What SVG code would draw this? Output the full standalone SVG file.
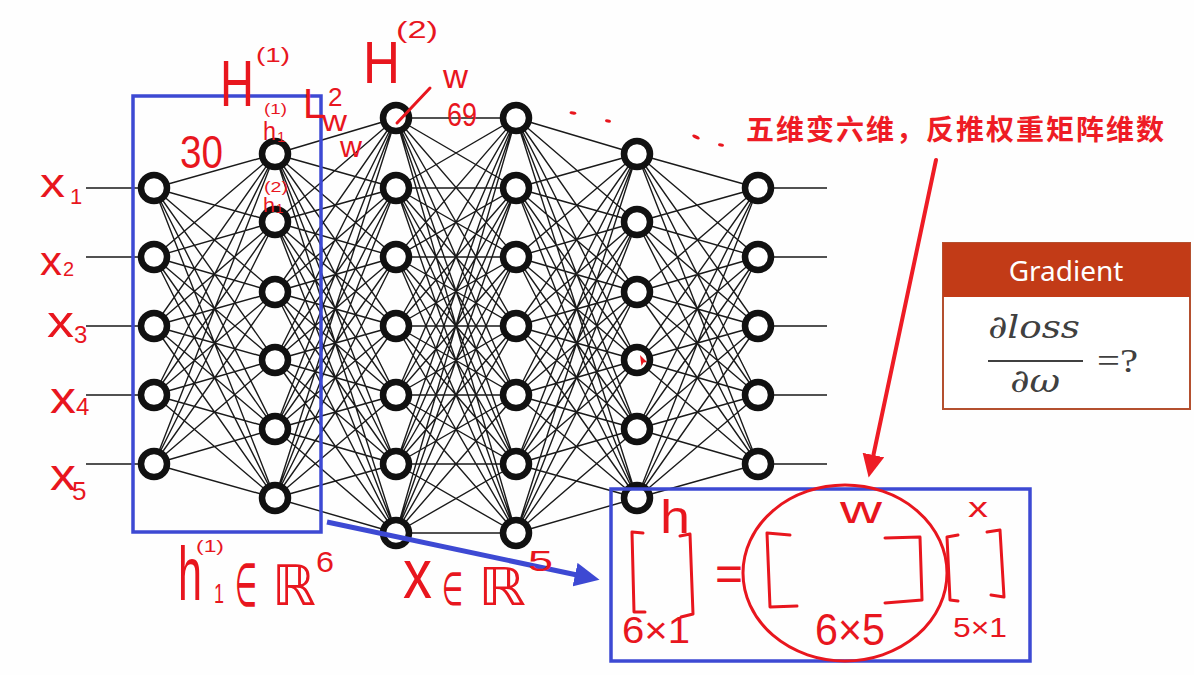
<svg xmlns="http://www.w3.org/2000/svg" width="1194" height="675" viewBox="0 0 1194 675">
<style>
.edge{stroke:#1a1a1a;stroke-width:1.4;fill:none}
.node circle{fill:#fff;stroke:#111;stroke-width:6.5}
.hw{fill:#e8161e;font-family:"Liberation Sans","DejaVu Sans",sans-serif}
.hwl{stroke:#e8161e;stroke-width:3;fill:none;stroke-linecap:round;stroke-linejoin:round}
.blue{stroke:#3d49d3;stroke-width:3.5;fill:none}
</style>
<defs>
<marker id="ahBlue" markerUnits="userSpaceOnUse" markerWidth="26" markerHeight="24" refX="2" refY="12" orient="auto"><path d="M0 0L25 12L0 24z" fill="#3d49d3"/></marker>
<marker id="ahRed" markerUnits="userSpaceOnUse" markerWidth="24" markerHeight="22" refX="2" refY="11" orient="auto"><path d="M0 0L23 11L0 22z" fill="#ee1c25"/></marker>
</defs>
<rect width="1194" height="675" fill="#fefefe"/>
<g id="connectors">
<path class="edge" d="M86 188H154M86 257H154M86 326H154M86 395H154M86 464H154M758 188H827M758 257H827M758 326H827M758 395H827M758 464H827"/>
<path class="edge" d="M154 188L275 154M154 188L275 222M154 188L275 292M154 188L275 360M154 188L275 429M154 188L275 498M154 257L275 154M154 257L275 222M154 257L275 292M154 257L275 360M154 257L275 429M154 257L275 498M154 326L275 154M154 326L275 222M154 326L275 292M154 326L275 360M154 326L275 429M154 326L275 498M154 395L275 154M154 395L275 222M154 395L275 292M154 395L275 360M154 395L275 429M154 395L275 498M154 464L275 154M154 464L275 222M154 464L275 292M154 464L275 360M154 464L275 429M154 464L275 498"/>
<path class="edge" d="M275 154L396 118M275 154L396 188M275 154L396 257M275 154L396 326M275 154L396 395M275 154L396 464M275 154L396 533M275 222L396 118M275 222L396 188M275 222L396 257M275 222L396 326M275 222L396 395M275 222L396 464M275 222L396 533M275 292L396 118M275 292L396 188M275 292L396 257M275 292L396 326M275 292L396 395M275 292L396 464M275 292L396 533M275 360L396 118M275 360L396 188M275 360L396 257M275 360L396 326M275 360L396 395M275 360L396 464M275 360L396 533M275 429L396 118M275 429L396 188M275 429L396 257M275 429L396 326M275 429L396 395M275 429L396 464M275 429L396 533M275 498L396 118M275 498L396 188M275 498L396 257M275 498L396 326M275 498L396 395M275 498L396 464M275 498L396 533"/>
<path class="edge" d="M396 118L516 118M396 118L516 188M396 118L516 257M396 118L516 326M396 118L516 395M396 118L516 464M396 118L516 533M396 188L516 118M396 188L516 188M396 188L516 257M396 188L516 326M396 188L516 395M396 188L516 464M396 188L516 533M396 257L516 118M396 257L516 188M396 257L516 257M396 257L516 326M396 257L516 395M396 257L516 464M396 257L516 533M396 326L516 118M396 326L516 188M396 326L516 257M396 326L516 326M396 326L516 395M396 326L516 464M396 326L516 533M396 395L516 118M396 395L516 188M396 395L516 257M396 395L516 326M396 395L516 395M396 395L516 464M396 395L516 533M396 464L516 118M396 464L516 188M396 464L516 257M396 464L516 326M396 464L516 395M396 464L516 464M396 464L516 533M396 533L516 118M396 533L516 188M396 533L516 257M396 533L516 326M396 533L516 395M396 533L516 464M396 533L516 533"/>
<path class="edge" d="M516 118L637 154M516 118L637 222M516 118L637 292M516 118L637 360M516 118L637 429M516 118L637 498M516 188L637 154M516 188L637 222M516 188L637 292M516 188L637 360M516 188L637 429M516 188L637 498M516 257L637 154M516 257L637 222M516 257L637 292M516 257L637 360M516 257L637 429M516 257L637 498M516 326L637 154M516 326L637 222M516 326L637 292M516 326L637 360M516 326L637 429M516 326L637 498M516 395L637 154M516 395L637 222M516 395L637 292M516 395L637 360M516 395L637 429M516 395L637 498M516 464L637 154M516 464L637 222M516 464L637 292M516 464L637 360M516 464L637 429M516 464L637 498M516 533L637 154M516 533L637 222M516 533L637 292M516 533L637 360M516 533L637 429M516 533L637 498"/>
<path class="edge" d="M637 154L758 188M637 154L758 257M637 154L758 326M637 154L758 395M637 154L758 464M637 222L758 188M637 222L758 257M637 222L758 326M637 222L758 395M637 222L758 464M637 292L758 188M637 292L758 257M637 292L758 326M637 292L758 395M637 292L758 464M637 360L758 188M637 360L758 257M637 360L758 326M637 360L758 395M637 360L758 464M637 429L758 188M637 429L758 257M637 429L758 326M637 429L758 395M637 429L758 464M637 498L758 188M637 498L758 257M637 498L758 326M637 498L758 395M637 498L758 464"/>
</g>
<g id="layer1">
<g id="n1-1" class="node"><circle cx="154" cy="188" r="13"/></g>
<g id="n1-2" class="node"><circle cx="154" cy="257" r="13"/></g>
<g id="n1-3" class="node"><circle cx="154" cy="326" r="13"/></g>
<g id="n1-4" class="node"><circle cx="154" cy="395" r="13"/></g>
<g id="n1-5" class="node"><circle cx="154" cy="464" r="13"/></g>
</g>
<g id="layer2">
<g id="n2-1" class="node"><circle cx="275" cy="154" r="13"/></g>
<g id="n2-2" class="node"><circle cx="275" cy="222" r="13"/></g>
<g id="n2-3" class="node"><circle cx="275" cy="292" r="13"/></g>
<g id="n2-4" class="node"><circle cx="275" cy="360" r="13"/></g>
<g id="n2-5" class="node"><circle cx="275" cy="429" r="13"/></g>
<g id="n2-6" class="node"><circle cx="275" cy="498" r="13"/></g>
</g>
<g id="layer3">
<g id="n3-1" class="node"><circle cx="396" cy="118" r="13"/></g>
<g id="n3-2" class="node"><circle cx="396" cy="188" r="13"/></g>
<g id="n3-3" class="node"><circle cx="396" cy="257" r="13"/></g>
<g id="n3-4" class="node"><circle cx="396" cy="326" r="13"/></g>
<g id="n3-5" class="node"><circle cx="396" cy="395" r="13"/></g>
<g id="n3-6" class="node"><circle cx="396" cy="464" r="13"/></g>
<g id="n3-7" class="node"><circle cx="396" cy="533" r="13"/></g>
</g>
<g id="layer4">
<g id="n4-1" class="node"><circle cx="516" cy="118" r="13"/></g>
<g id="n4-2" class="node"><circle cx="516" cy="188" r="13"/></g>
<g id="n4-3" class="node"><circle cx="516" cy="257" r="13"/></g>
<g id="n4-4" class="node"><circle cx="516" cy="326" r="13"/></g>
<g id="n4-5" class="node"><circle cx="516" cy="395" r="13"/></g>
<g id="n4-6" class="node"><circle cx="516" cy="464" r="13"/></g>
<g id="n4-7" class="node"><circle cx="516" cy="533" r="13"/></g>
</g>
<g id="layer5">
<g id="n5-1" class="node"><circle cx="637" cy="154" r="13"/></g>
<g id="n5-2" class="node"><circle cx="637" cy="222" r="13"/></g>
<g id="n5-3" class="node"><circle cx="637" cy="292" r="13"/></g>
<g id="n5-4" class="node"><circle cx="637" cy="360" r="13"/></g>
<g id="n5-5" class="node"><circle cx="637" cy="429" r="13"/></g>
<g id="n5-6" class="node"><circle cx="637" cy="498" r="13"/></g>
</g>
<g id="layer6">
<g id="n6-1" class="node"><circle cx="758" cy="188" r="13"/></g>
<g id="n6-2" class="node"><circle cx="758" cy="257" r="13"/></g>
<g id="n6-3" class="node"><circle cx="758" cy="326" r="13"/></g>
<g id="n6-4" class="node"><circle cx="758" cy="395" r="13"/></g>
<g id="n6-5" class="node"><circle cx="758" cy="464" r="13"/></g>
</g>
<g id="cursor"><path d="M640 355L647 362L643.5 362.5L641.5 366z" fill="#e8161e"/></g>
<g id="hidden-box"><rect class="blue" x="133" y="96" width="188" height="436"/></g>
<g id="blue-arrow"><line x1="327" y1="522" x2="577" y2="575" stroke="#3d49d3" stroke-width="5" marker-end="url(#ahBlue)"/></g>
<g id="input-labels">
<text class="hw" x="40" y="197" font-size="40" textLength="25" lengthAdjust="spacingAndGlyphs">x</text>
<text class="hw" x="70" y="204" font-size="22">1</text>
<text class="hw" x="40" y="275" font-size="40" textLength="22" lengthAdjust="spacingAndGlyphs">x</text>
<text class="hw" x="63" y="276" font-size="20">2</text>
<text class="hw" x="47" y="337" font-size="44" textLength="27" lengthAdjust="spacingAndGlyphs">x</text>
<text class="hw" x="74" y="343" font-size="24">3</text>
<text class="hw" x="50" y="413" font-size="44" textLength="26" lengthAdjust="spacingAndGlyphs">x</text>
<text class="hw" x="76" y="415" font-size="24">4</text>
<text class="hw" x="50" y="490" font-size="44" textLength="26" lengthAdjust="spacingAndGlyphs">x</text>
<text class="hw" x="72" y="500" font-size="26">5</text>
</g>
<g id="top-annotations">
<text class="hw" x="220" y="106" font-size="64" textLength="34" lengthAdjust="spacingAndGlyphs">H</text>
<text class="hw" x="256" y="62" font-size="20" textLength="34" lengthAdjust="spacingAndGlyphs">(1)</text>
<text class="hw" x="180" y="168" font-size="46" textLength="43" lengthAdjust="spacingAndGlyphs">30</text>
<text class="hw" x="264" y="114" font-size="15" textLength="23" lengthAdjust="spacingAndGlyphs">(1)</text>
<text class="hw" x="263" y="140" font-size="26" textLength="13" lengthAdjust="spacingAndGlyphs">h</text>
<text class="hw" x="277" y="142" font-size="15">1</text>
<text class="hw" x="264" y="192" font-size="14" textLength="24" lengthAdjust="spacingAndGlyphs">(2)</text>
<text class="hw" x="263" y="212" font-size="21" textLength="12" lengthAdjust="spacingAndGlyphs">h</text>
<text class="hw" x="276" y="213" font-size="13">1</text>
<text class="hw" x="303" y="118" font-size="42" textLength="22" lengthAdjust="spacingAndGlyphs">L</text>
<text class="hw" x="328" y="106" font-size="26">2</text>
<text class="hw" x="322" y="131" font-size="30" textLength="25" lengthAdjust="spacingAndGlyphs">w</text>
<text class="hw" x="340" y="157" font-size="30" textLength="22" lengthAdjust="spacingAndGlyphs">w</text>
<text class="hw" x="363" y="83" font-size="60" textLength="37" lengthAdjust="spacingAndGlyphs">H</text>
<text class="hw" x="396" y="38" font-size="24" textLength="42" lengthAdjust="spacingAndGlyphs">(2)</text>
<text class="hw" x="443" y="88" font-size="34" textLength="25" lengthAdjust="spacingAndGlyphs">w</text>
<text class="hw" x="447" y="126" font-size="34" textLength="30" lengthAdjust="spacingAndGlyphs">69</text>
<line class="hwl" x1="430" y1="88" x2="397" y2="123"/>
<g fill="#e8161e">
<ellipse cx="573" cy="113" rx="3.5" ry="1.6" transform="rotate(10 573 113)"/>
<ellipse cx="608" cy="121" rx="3" ry="1.6" transform="rotate(10 608 121)"/>
<ellipse cx="696" cy="137" rx="4" ry="1.7" transform="rotate(25 696 137)"/>
<ellipse cx="721" cy="145" rx="3" ry="1.6" transform="rotate(10 721 145)"/>
</g>
</g>
<g id="bottom-annotations">
<text class="hw" x="178" y="600" font-size="76" textLength="24" lengthAdjust="spacingAndGlyphs">h</text>
<text class="hw" x="196" y="552" font-size="17" textLength="28" lengthAdjust="spacingAndGlyphs">(1)</text>
<text class="hw" x="214" y="603" font-size="28" textLength="10" lengthAdjust="spacingAndGlyphs">1</text>
<text class="hw" x="235" y="606" font-size="60" textLength="22" lengthAdjust="spacingAndGlyphs">∈</text>
<text class="hw" x="272" y="605" font-size="56" textLength="44" lengthAdjust="spacingAndGlyphs">ℝ</text>
<text class="hw" x="316" y="572" font-size="30" textLength="18" lengthAdjust="spacingAndGlyphs">6</text>
<text class="hw" x="403" y="598" font-size="70" textLength="29" lengthAdjust="spacingAndGlyphs">x</text>
<text class="hw" x="442" y="605" font-size="46" textLength="21" lengthAdjust="spacingAndGlyphs">∈</text>
<text class="hw" x="478" y="605" font-size="52" textLength="48" lengthAdjust="spacingAndGlyphs">ℝ</text>
<text class="hw" x="528" y="571" font-size="30" textLength="25" lengthAdjust="spacingAndGlyphs">5</text>
</g>
<g id="title-note">
<text x="746" y="140" font-family="'Noto Sans CJK SC',sans-serif" font-weight="bold" font-size="28" fill="#ee1c25" textLength="418" lengthAdjust="spacing">五维变六维，反推权重矩阵维数</text>
<line x1="936" y1="160" x2="873" y2="457" stroke="#ee1c25" stroke-width="4" stroke-linecap="round" marker-end="url(#ahRed)"/>
</g>
<g id="gradient-box">
<rect x="943" y="243" width="247" height="166" fill="#fff" stroke="#b4502f" stroke-width="2"/>
<rect x="943" y="243" width="247" height="54" fill="#c23b17"/>
<text x="1066" y="281" font-family="'Noto Sans','Open Sans',sans-serif" font-size="28" fill="#fff" text-anchor="middle">Gradient</text>
<text x="988" y="338" font-family="'DejaVu Serif','Liberation Serif',serif" font-style="italic" font-size="32" fill="#404040" textLength="92" lengthAdjust="spacingAndGlyphs">∂loss</text>
<line x1="988" y1="361" x2="1083" y2="361" stroke="#404040" stroke-width="2"/>
<text x="1010" y="392" font-family="'DejaVu Serif','Liberation Serif',serif" font-style="italic" font-size="32" fill="#404040" textLength="50" lengthAdjust="spacingAndGlyphs">∂ω</text>
<text x="1097" y="372" font-family="'Liberation Serif',serif" font-size="34" fill="#404040" textLength="41" lengthAdjust="spacingAndGlyphs">=?</text>
</g>
<g id="matrix-box">
<rect class="blue" x="611" y="489" width="419" height="172"/>
<ellipse cx="845" cy="573" rx="102" ry="88" fill="none" stroke="#e8161e" stroke-width="3"/>
<text class="hw" x="660" y="533" font-size="46" textLength="30" lengthAdjust="spacingAndGlyphs">h</text>
<path class="hwl" d="M643 533L632 532L634 612L645 612M680 536L690 534L693 614L681 617"/>
<text class="hw" x="715" y="590" font-size="48" textLength="28" lengthAdjust="spacingAndGlyphs">=</text>
<text class="hw" x="622" y="643" font-size="36" textLength="68" lengthAdjust="spacingAndGlyphs">6×1</text>
<path class="hwl" d="M790 535L767 533L770 607L797 606M885 538L920 537L922 600L885 603"/>
<text class="hw" x="840" y="523" font-size="38" textLength="42" lengthAdjust="spacingAndGlyphs">w</text>
<text class="hw" x="815" y="645" font-size="44" textLength="70" lengthAdjust="spacingAndGlyphs">6×5</text>
<path class="hwl" d="M958 535L947 537L950 600L958 601M987 532L1000 530L1004 597L991 595"/>
<text class="hw" x="968" y="517" font-size="28" textLength="20" lengthAdjust="spacingAndGlyphs">x</text>
<text class="hw" x="953" y="637" font-size="27" textLength="54" lengthAdjust="spacingAndGlyphs">5×1</text>
</g>
</svg>
